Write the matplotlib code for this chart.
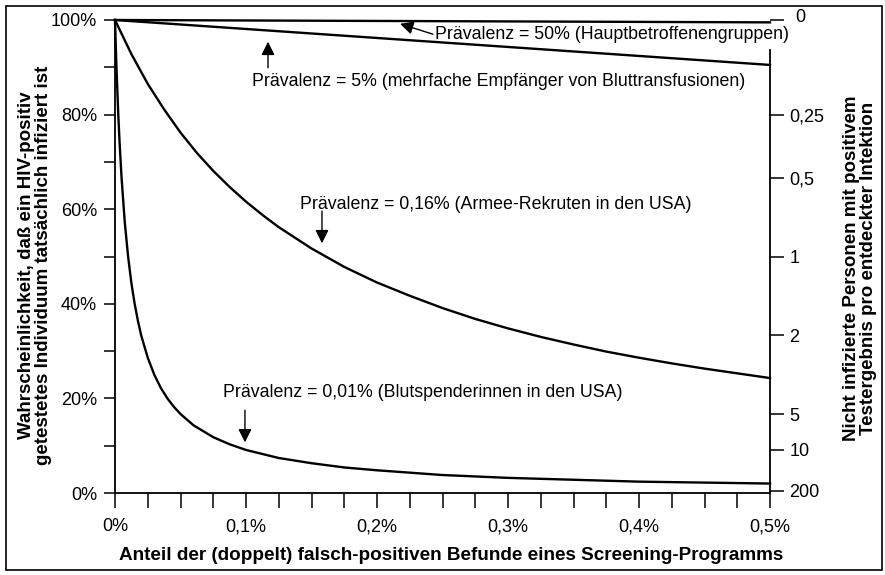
import matplotlib
matplotlib.use("Agg")
import matplotlib.pyplot as plt
from matplotlib.patches import Rectangle

plt.rcParams["font.family"] = ["Liberation Sans", "DejaVu Sans"]

# false-positive rate in percent (x) and probability in percent (y)
fp_001 = [0, 0.001, 0.0025, 0.0035, 0.005, 0.0075, 0.01, 0.0125, 0.015, 0.0175, 0.02, 0.025,
          0.03, 0.035, 0.04, 0.045, 0.05, 0.06, 0.075, 0.0875, 0.1, 0.125, 0.15, 0.175, 0.2,
          0.25, 0.3, 0.35, 0.4, 0.45, 0.5]
ppv_001 = [100, 90.9, 80, 74.1, 66.7, 57.1, 50, 44.4, 40, 36.4, 33.3, 28.6,
           25, 22.2, 20, 18.2, 16.7, 14.3, 11.8, 10.3, 9.1, 7.4, 6.3, 5.4, 4.8,
           3.8, 3.2, 2.8, 2.4, 2.2, 2.0]

fp_016 = [0, 0.0125, 0.025, 0.0375, 0.05, 0.0625, 0.075, 0.0875, 0.1, 0.1125, 0.125, 0.15,
          0.175, 0.2, 0.225, 0.25, 0.275, 0.3, 0.325, 0.35, 0.375, 0.4, 0.425, 0.45, 0.475, 0.5]
ppv_016 = [100, 92.8, 86.5, 81.1, 76.2, 71.9, 68.1, 64.7, 61.6, 58.8, 56.2, 51.7,
           47.8, 44.5, 41.7, 39.1, 36.8, 34.8, 33.0, 31.4, 29.9, 28.6, 27.4, 26.3, 25.3, 24.3]

fp_5 = [0, 0.1, 0.2, 0.3, 0.4, 0.5]
ppv_5 = [100, 98.1, 96.2, 94.3, 92.4, 90.5]

fp_50 = [0, 0.25, 0.5]
ppv_50 = [100, 99.75, 99.5]

x_ticks = [0, 0.1, 0.2, 0.3, 0.4, 0.5]
x_labels = ["0%", "0,1%", "0,2%", "0,3%", "0,4%", "0,5%"]
y_ticks = [0, 20, 40, 60, 80, 100]
y_labels = ["0%", "20%", "40%", "60%", "80%", "100%"]

# right axis: uninfected persons per detected infection
ratio_values = [0, 0.25, 0.5, 1, 2, 5, 10, 200]
ratio_labels = ["0", "0,25", "0,5", "1", "2", "5", "10", "200"]

# annotations: text, text position, arrow tail, arrow tip (data coords)
notes = [
    ("Prävalenz = 50% (Hauptbetroffenengruppen)", (0.2443, 97.0), (0.2427, 97.0), (0.2176, 99.2)),
    ("Prävalenz = 5% (mehrfache Empfänger von Bluttransfusionen)", (0.1046, 86.9), (0.1168, 89.9), (0.1168, 95.4)),
    ("Prävalenz = 0,16% (Armee-Rekruten in den USA)", (0.1412, 61.0), (0.158, 59.6), (0.158, 52.8)),
    ("Prävalenz = 0,01% (Blutspenderinnen in den USA)", (0.0824, 21.3), (0.0992, 17.5), (0.0992, 10.7)),
]

fs = 13
fs_note = 12.8

fig = plt.figure(figsize=(8.85, 5.75), dpi=100)
ax = fig.add_axes([115 / 885, 1 - 493 / 575, 655 / 885, 473 / 575])

lw = 1.7
for xs, ys in [(fp_001, ppv_001), (fp_016, ppv_016), (fp_5, ppv_5), (fp_50, ppv_50)]:
    ax.plot(xs, ys, color="black", lw=lw, zorder=3, clip_on=False, solid_joinstyle="round")

ax.set_xlim(0, 0.5)
ax.set_ylim(0, 100)
ax.set_xticks(x_ticks)
ax.set_xticklabels(x_labels)
ax.set_xticks([0.025 * i for i in range(21)], minor=True)
ax.set_yticks(y_ticks)
ax.set_yticklabels(y_labels)
ax.set_yticks([10, 30, 50, 70, 90], minor=True)
ax.tick_params(axis="x", which="both", direction="out", length=11, width=1.1, pad=7, labelsize=fs)
ax.tick_params(axis="y", which="both", direction="out", length=8, width=1.1, pad=5, labelsize=fs)
ax.spines["top"].set_visible(False)
ax.spines["right"].set_visible(False)
for s in ["left", "bottom"]:
    ax.spines[s].set_linewidth(1.3)

ax2 = ax.twinx()
ax2.set_ylim(0, 100)
ax2.set_yticks([100 / (1 + r) for r in ratio_values])
# the "0" label sits a little higher and further right in the original
ax2.set_yticklabels([""] + ratio_labels[1:])
ax2.tick_params(axis="y", direction="out", length=10, width=1.1, pad=4, labelsize=fs)
ax2.annotate(ratio_labels[0], xy=(1, 100 / (1 + ratio_values[0])),
             xycoords=("axes fraction", "data"), xytext=(22, 2), textcoords="offset points",
             ha="center", va="center", fontsize=fs, annotation_clip=False)
for s in ["left", "top", "bottom"]:
    ax2.spines[s].set_visible(False)
ax2.spines["right"].set_bounds(0, 93.7)
ax2.spines["right"].set_linewidth(1.3)

for text, pos, tail, tip in notes:
    ax.annotate("", xy=tip, xytext=tail,
                arrowprops=dict(arrowstyle="-|>", color="black", lw=1.0, mutation_scale=20,
                                shrinkA=0, shrinkB=0), zorder=4)
    ax.text(pos[0], pos[1], text, ha="left", va="center", fontsize=fs_note, zorder=4, clip_on=False)

fig.text(35 / 885, 1 - 265 / 575,
         "Wahrscheinlichkeit, daß ein HIV-positiv\ngetestetes Individuum tatsächlich infiziert ist",
         rotation=90, ha="center", va="center", fontsize=13.5, fontweight="bold", linespacing=1.05)
fig.text(860 / 885, 1 - 268 / 575,
         "Nicht infizierte Personen mit positivem\nTestergebnis pro entdeckter Intektion",
         rotation=90, ha="center", va="center", fontsize=13.5, fontweight="bold", linespacing=1.05)
fig.text(451 / 885, 1 - 555 / 575,
         "Anteil der (doppelt) falsch-positiven Befunde eines Screening-Programms",
         ha="center", va="center", fontsize=13.6, fontweight="bold")

fig.patches.append(Rectangle((6 / 885, 5 / 575), 876 / 885, 564 / 575, transform=fig.transFigure,
                             fill=False, lw=1.2, edgecolor="black"))

fig.savefig("out.png", dpi=100)
